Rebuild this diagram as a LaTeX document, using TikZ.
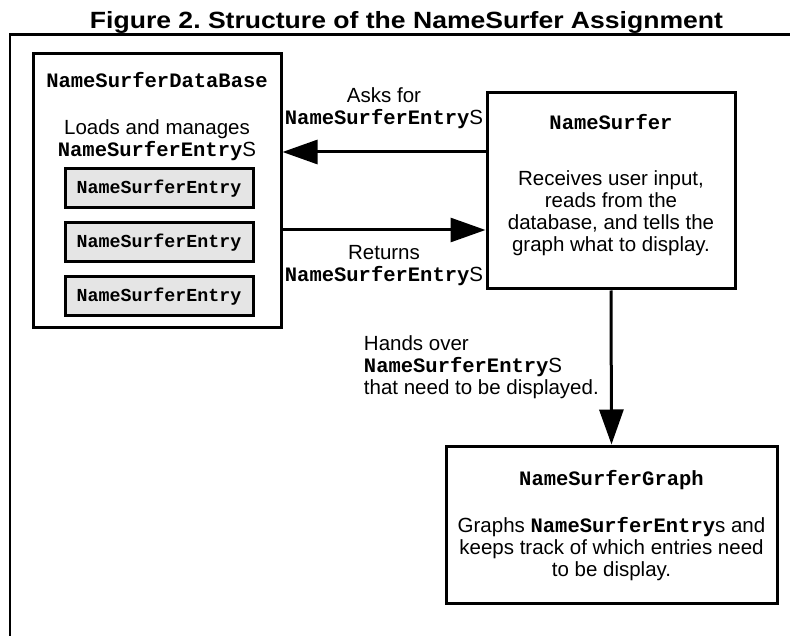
\documentclass[tikz,border=0pt]{standalone}
\usepackage{fontspec}
\setmainfont{Liberation Sans}
\setmonofont{Liberation Mono}
\usepackage{tikz}
\usetikzlibrary{arrows.meta}
\usetikzlibrary{positioning}

\newcommand{\txtfont}{\fontsize{20.5}{22}\selectfont}
\newcommand{\cname}[1]{{\ttfamily\bfseries #1}}
\tikzset{
  box/.style={draw, line width=3pt, rectangle, inner sep=0pt},
  entrybox/.style={box, fill=gray!20, minimum width=188pt, minimum height=39pt,
    font=\fontsize{18.3}{20}\selectfont},
  arr/.style={line width=3pt, -{Triangle[length=35pt,width=24pt]}},
  txt/.style={font=\txtfont, align=center, inner sep=0pt},
}

\begin{document}
\begin{tikzpicture}[x=1pt,y=-1pt]
          \useasboundingbox (0,0) rectangle (790,636);
          \node[anchor=base, font=\bfseries\fontsize{23.5}{26}\selectfont] (title) at (406.5,29)
            {\scalebox{1.13}[1]{Figure 2.\ Structure of the NameSurfer Assignment}};
          \draw[line width=2.5pt] (790,34.5) -| (10,636);
          % the three classes
          \node[box, minimum width=248pt, minimum height=274pt] (db) at (157,191) {};
          \node[box, minimum width=248pt, minimum height=196pt] (surfer) at (611,191) {};
          \node[box, minimum width=331pt, minimum height=157pt] (graph) at (611.5,524.5) {};
          \foreach \y/\n in {188.5/entryA, 242.5/entryB, 296.5/entryC}
            \node[entrybox] (\n) at (159,\y) {\cname{NameSurferEntry}};
          % texts, anchored at the base of their last line
          \node[txt, anchor=base] (dbname) at (157,88) {\cname{NameSurferDataBase}};
          \node[txt, anchor=base] (dbtext) at (157,157) {Loads and manages\\\cname{NameSurferEntry}S};
          \node[txt, anchor=base] (sfname) at (611,130) {\cname{NameSurfer}};
          \node[txt, anchor=base] (sftext) at (611,252) {Receives user input,\\reads from the\\database, and tells the\\graph what to display.};
          \node[txt, anchor=base] (grname) at (611.5,485) {\cname{NameSurferGraph}};
          \node[txt, anchor=base] (grtext) at (611.5,576) {Graphs \cname{NameSurferEntry}s and\\keeps track of which entries need\\to be display.};
          % arrows
          \draw[arr] ([yshift=39pt]surfer.west) -- node[txt, above=22pt] {Asks for\\\cname{NameSurferEntry}S} ([yshift=39pt]db.east);
          \draw[arr] ([yshift=-39pt]db.east) -- node[txt, below=14pt] {Returns\\\cname{NameSurferEntry}S} ([yshift=-39pt]surfer.west);
          \draw[arr] (surfer.south) -- node[txt, align=left, left=11pt] {Hands over\\\cname{NameSurferEntry}S\\that need to be displayed.} (graph.north);
        \end{tikzpicture}
\end{document}
